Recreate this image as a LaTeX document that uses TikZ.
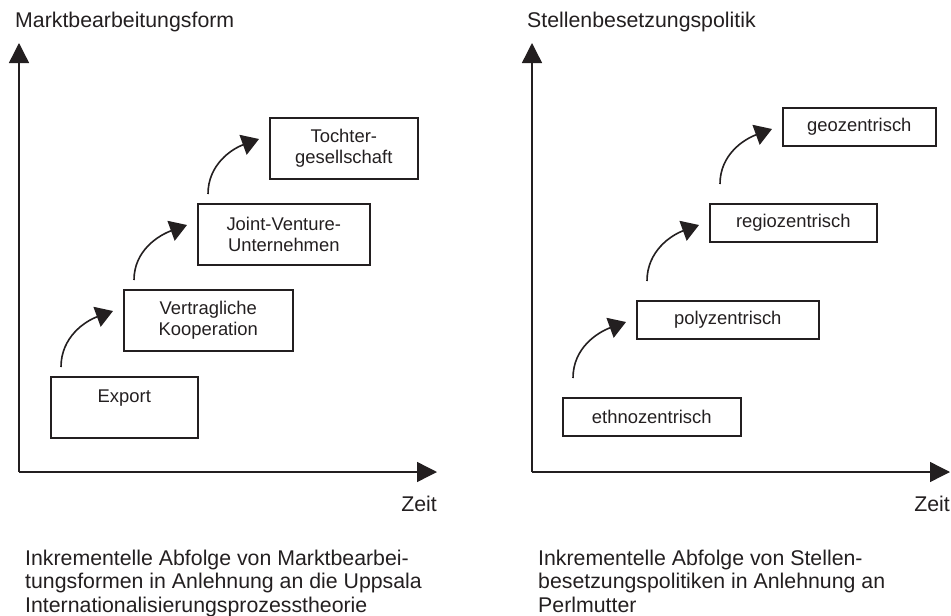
\documentclass[tikz,border=0pt]{standalone}
\usepackage{fontspec}
\setmainfont{Liberation Sans}
\usetikzlibrary{arrows.meta,positioning}
\definecolor{ink}{RGB}{35,31,32}
\tikzset{
    achse/.style={line width=1.4pt, -{Triangle[length=20pt,width=20pt]}},
    schritt/.style={line width=1.6pt, -{Triangle[length=17pt,width=21pt]}},
    stufe/.style={draw, line width=1.6pt, minimum height=61pt, inner sep=0pt, align=center,
        font=\fontsize{18.4}{21.5}\selectfont},
    stufeR/.style={stufe, minimum height=38pt},
    titel/.style={inner sep=0pt, font=\fontsize{21.3}{23.3}\selectfont}
}

\begin{document}
\begin{tikzpicture}[x=1pt, y=-1pt, color=ink]
    \useasboundingbox (0,0) rectangle (951,616);

    % linkes Diagramm
    \coordinate (ursprungL) at (19,472);
    \coordinate (yL) at (19,43);
    \coordinate (xL) at (437,472);
    \draw[achse] (ursprungL) -- (yL);
    \draw[achse] (ursprungL) -- (xL);
    \node[titel, anchor=base west] (titelL) at (15,27) {Marktbearbeitungsform};
    \node[titel, anchor=base east] (zeitL) at (437,511) {Zeit};

    \node[stufe, minimum width=147pt, anchor=north west] (export) at (50,376) {Export\\ \mbox{}};
    \node[stufe, minimum width=169pt, anchor=north west] (vertrag) at (123,289) {Vertragliche\\Kooperation};
    \node[stufe, minimum width=172pt, anchor=north west] (jv) at (197,203) {Joint-Venture-\\Unternehmen};
    \node[stufe, minimum width=148pt, anchor=north west] (tochter) at (269,117) {Tochter-\\gesellschaft};

    \foreach \a/\b in {export/vertrag, vertrag/jv, jv/tochter}
        \draw[schritt] ([xshift=11pt,yshift=9pt]\a.north west) to[out=90,in=200]
            ([xshift=-10pt,yshift=-22pt]\b.north west);

    \node[titel, anchor=north west, align=left] (textL) at (25,550)
        {Inkrementelle Abfolge von Marktbearbei-\\tungsformen in Anlehnung an die Uppsala\\Internationalisierungsprozesstheorie};

    % rechtes Diagramm
    \coordinate (ursprungR) at (532,472);
    \coordinate (yR) at (532,43);
    \coordinate (xR) at (950,472);
    \draw[achse] (ursprungR) -- (yR);
    \draw[achse] (ursprungR) -- (xR);
    \node[titel, anchor=base west] (titelR) at (527,27) {Stellenbesetzungspolitik};
    \node[titel, anchor=base east] (zeitR) at (950,511) {Zeit};

    \node[stufeR, minimum width=178pt, anchor=north west] (ethno) at (562,397) {ethnozentrisch};
    \node[stufeR, minimum width=182pt, anchor=north west] (poly) at (636,300) {polyzentrisch};
    \node[stufeR, minimum width=167pt, anchor=north west] (regio) at (709,203) {regiozentrisch};
    \node[stufeR, minimum width=153pt, anchor=north west] (geo) at (782,107) {geozentrisch};

    \foreach \a/\b in {ethno/poly, poly/regio, regio/geo}
        \draw[schritt] ([xshift=11pt,yshift=19pt]\a.north west) to[out=90,in=200]
            ([xshift=-10pt,yshift=-22pt]\b.north west);

    \node[titel, anchor=north west, align=left] (textR) at (538,550)
        {Inkrementelle Abfolge von Stellen-\\besetzungspolitiken in Anlehnung an\\Perlmutter};
\end{tikzpicture}
\end{document}
